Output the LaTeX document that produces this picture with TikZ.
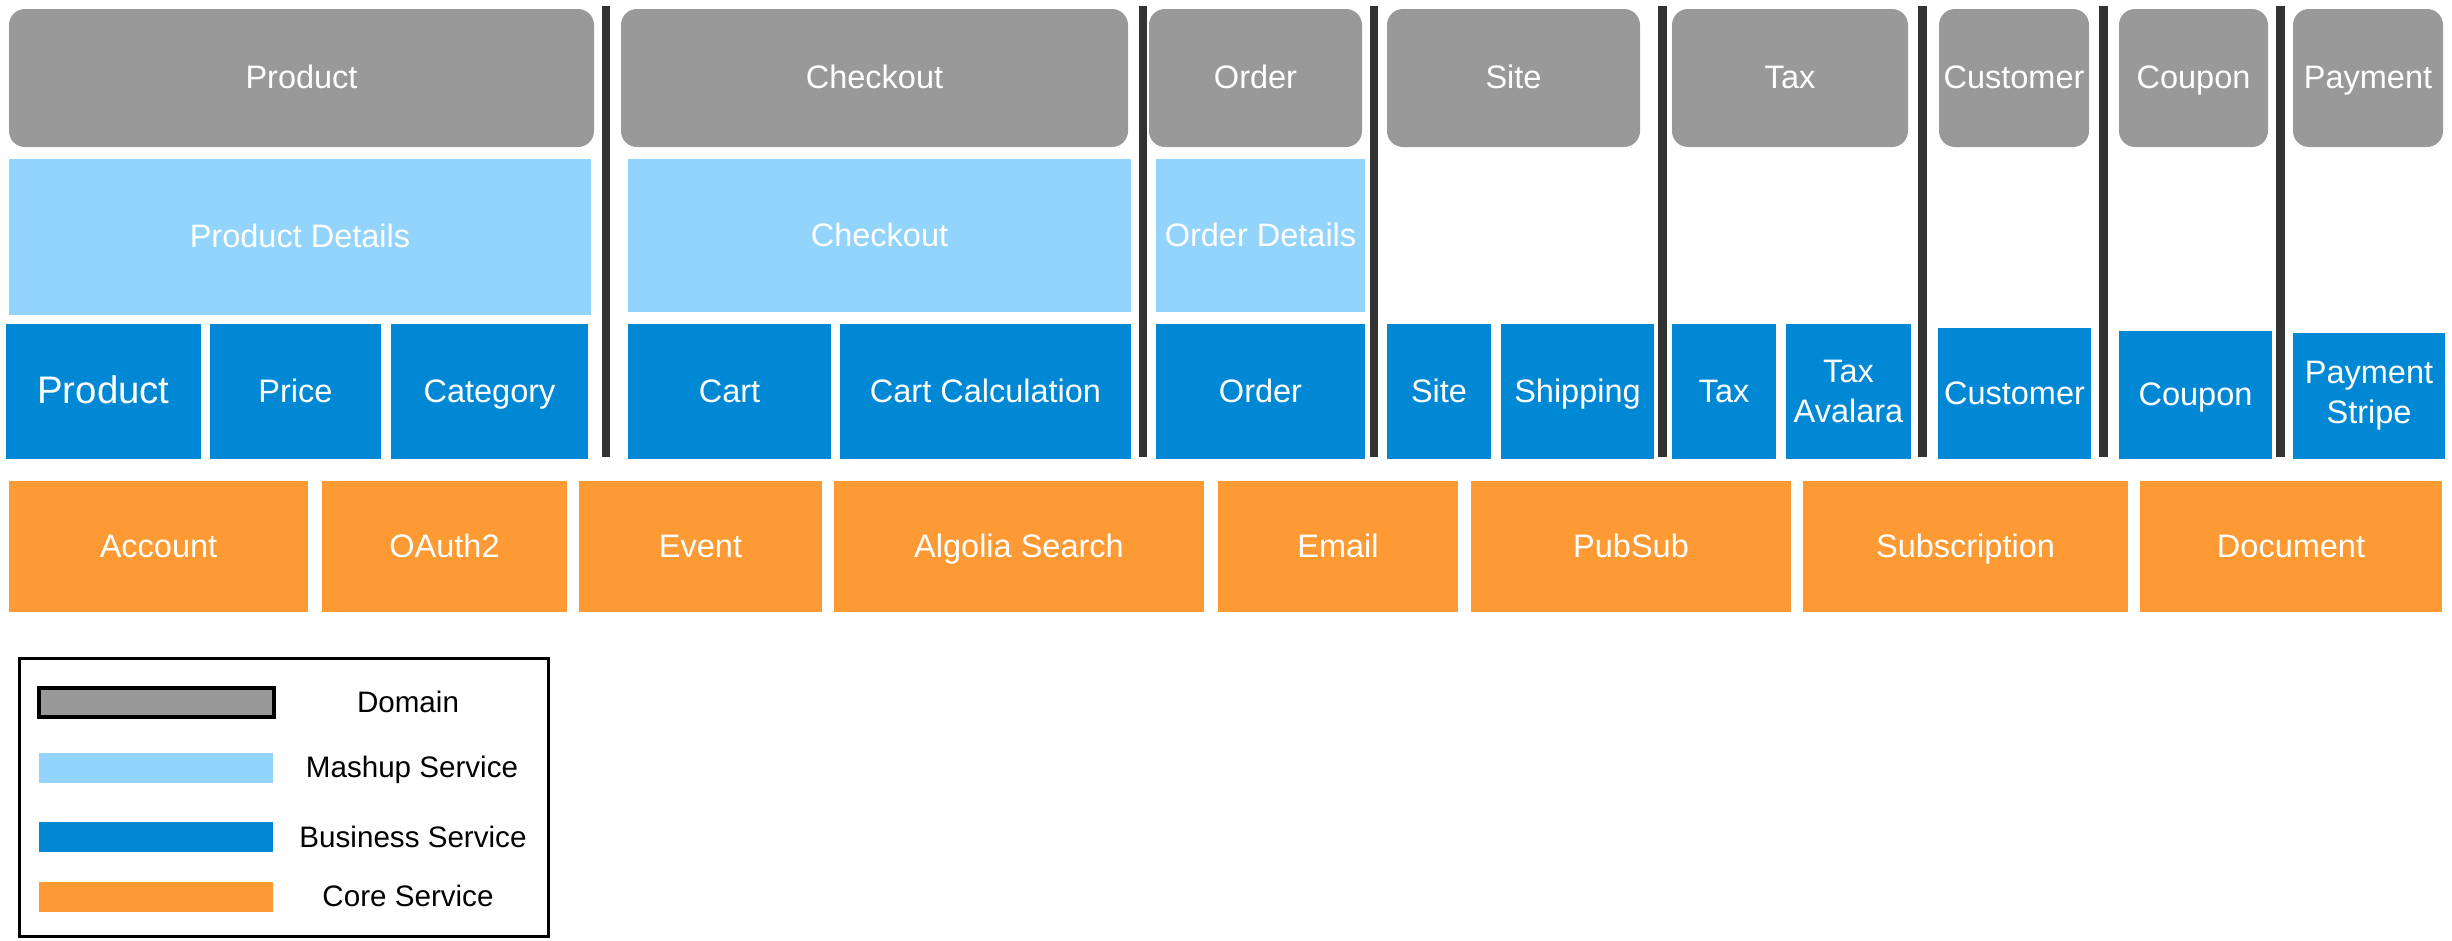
\documentclass[tikz,border=0pt]{standalone}
\usepackage{fontspec}
\setmainfont{Liberation Sans}
\definecolor{domgray}{HTML}{999999}
\definecolor{mashblue}{HTML}{92D4FC}
\definecolor{busblue}{HTML}{0088D5}
\definecolor{coreorange}{HTML}{FE9A34}
\definecolor{bardark}{HTML}{333333}
\newcommand{\mkcell}[7]{%
  \pgfmathsetmacro\cellw{#5-#3}\pgfmathsetmacro\cellh{#6-#4}%
  \node[#1, minimum width=\cellw pt, minimum height=\cellh pt] (#2) at (#3,#4) {#7};}
\begin{document}
\begin{tikzpicture}[x=1pt,y=-1pt,
  cellbox/.style={anchor=north west, inner sep=0pt, outer sep=0pt, text=white, align=center,
    font=\fontsize{32.5}{40}\selectfont},
  onebox/.style={cellbox, text height=23.4pt, text depth=2pt},
  domainbox/.style={onebox, fill=domgray, rounded corners=16pt},
  mashbox/.style={onebox, fill=mashblue},
  busbox/.style={onebox, fill=busblue},
  busboxtwo/.style={cellbox, fill=busblue},
  corebox/.style={onebox, fill=coreorange},
  dividerbar/.style={fill=bardark},
  legendframe/.style={cellbox, draw=black, line width=3pt, fill=white},
  lgtext/.style={inner sep=0pt, text=black, font=\fontsize{29.6}{36}\selectfont, text height=21.3pt, text depth=3pt},
]
\useasboundingbox (0,0) rectangle (2452,940);
\fill[white] (0,0) rectangle (2452,940);

% Domains
\mkcell{domainbox}{dProduct}{9}{9}{594}{147}{Product}
\mkcell{domainbox}{dCheckout}{621}{9}{1128}{147}{Checkout}
\mkcell{domainbox}{dOrder}{1149}{9}{1362}{147}{Order}
\mkcell{domainbox}{dSite}{1387}{9}{1640}{147}{Site}
\mkcell{domainbox}{dTax}{1672}{9}{1908}{147}{Tax}
\mkcell{domainbox}{dCustomer}{1939}{9}{2089}{147}{Customer}
\mkcell{domainbox}{dCoupon}{2119}{9}{2268}{147}{Coupon}
\mkcell{domainbox}{dPayment}{2293}{9}{2443}{147}{Payment}

% Mashup services
\mkcell{mashbox}{mProductDetails}{9}{159}{591}{315}{Product Details}
\mkcell{mashbox}{mCheckout}{628}{159}{1131}{312}{Checkout}
\mkcell{mashbox}{mOrderDetails}{1156}{159}{1365}{312}{Order Details}

% Business services
\mkcell{busbox, font=\fontsize{38.4}{46}\selectfont, text height=27.6pt, text depth=3pt}{bProduct}{6}{324}{201}{459}{Product}
\mkcell{busbox}{bPrice}{210}{324}{381}{459}{Price}
\mkcell{busbox}{bCategory}{391}{324}{588}{459}{Category}
\mkcell{busbox}{bCart}{628}{324}{831}{459}{Cart}
\mkcell{busbox}{bCartCalc}{840}{324}{1131}{459}{Cart Calculation}
\mkcell{busbox}{bOrder}{1156}{324}{1365}{459}{Order}
\mkcell{busbox}{bSite}{1387}{324}{1491}{459}{Site}
\mkcell{busbox}{bShipping}{1501}{324}{1654}{459}{Shipping}
\mkcell{busbox}{bTax}{1672}{324}{1776}{459}{Tax}
\mkcell{busboxtwo}{bAvalara}{1786}{324}{1911}{459}{Tax\\Avalara}
\mkcell{busbox}{bCustomer}{1938}{328}{2091}{459}{Customer}
\mkcell{busbox}{bCoupon}{2119}{331}{2272}{459}{Coupon}
\mkcell{busboxtwo}{bStripe}{2293}{333}{2445}{459}{Payment\\Stripe}

% Dividers
\foreach \xa/\xb in {602/610, 1139/1147, 1370/1378, 1658/1667, 1918/1927, 2099/2108, 2276/2285}
  \fill[dividerbar] (\xa,6) rectangle (\xb,457);

% Core services
\mkcell{corebox}{cAccount}{9}{481}{308}{612}{Account}
\mkcell{corebox}{cOAuth}{322}{481}{567}{612}{OAuth2}
\mkcell{corebox}{cEvent}{579}{481}{822}{612}{Event}
\mkcell{corebox}{cAlgolia}{834}{481}{1204}{612}{Algolia Search}
\mkcell{corebox}{cEmail}{1218}{481}{1458}{612}{Email}
\mkcell{corebox}{cPubSub}{1471}{481}{1791}{612}{PubSub}
\mkcell{corebox}{cSubscription}{1803}{481}{2128}{612}{Subscription}
\mkcell{corebox}{cDocument}{2140}{481}{2442}{612}{Document}

% Legend
\mkcell{legendframe}{legend}{19}{658}{548}{936}{}
\mkcell{cellbox, fill=domgray, draw=black, line width=4pt}{swDomain}{39}{688}{274}{717}{}
\mkcell{cellbox, fill=mashblue}{swMashup}{39}{753}{273}{783}{}
\mkcell{cellbox, fill=busblue}{swBusiness}{39}{822}{273}{852}{}
\mkcell{cellbox, fill=coreorange}{swCore}{39}{882}{273}{912}{}
\node[lgtext] (lDomain) at (408,703) {Domain};
\node[lgtext] (lMashup) at (412,768) {Mashup Service};
\node[lgtext] (lBusiness) at (413,838) {Business Service};
\node[lgtext] (lCore) at (408,897) {Core Service};
\end{tikzpicture}
\end{document}
